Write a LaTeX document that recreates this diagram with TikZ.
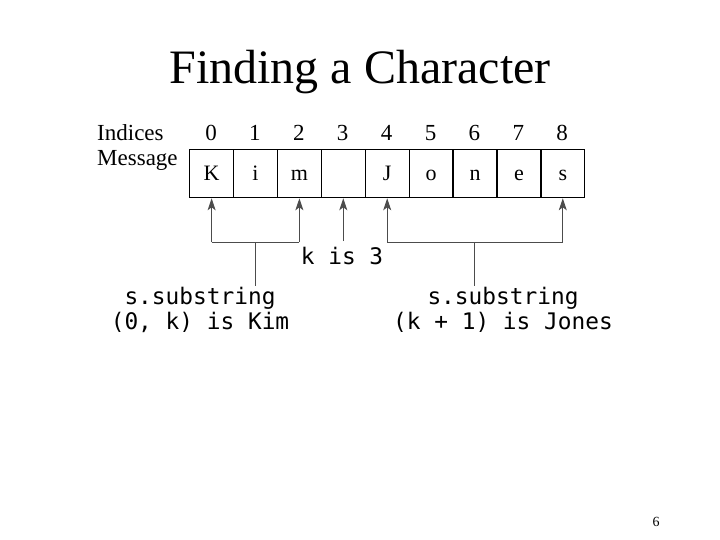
\documentclass[tikz,border=0pt]{standalone}
\usepackage{fontspec}
\setmainfont{Liberation Serif}
\newfontfamily\monof{DejaVu Sans Mono}
\usetikzlibrary{arrows.meta}
\begin{document}
\begin{tikzpicture}[x=1pt,y=-1pt,
  cellbox/.style={draw,line width=1.3pt,minimum width=43.9pt,minimum height=48pt,inner sep=0pt,anchor=north west,text height=14pt,text depth=0pt,font=\fontsize{22}{24}\selectfont},
  idx/.style={font=\fontsize{23}{25}\selectfont,inner sep=0pt},
  lbl/.style={font=\fontsize{23}{25}\selectfont,inner sep=0pt,anchor=west},
  mono/.style={font=\monof\fontsize{22.8}{24.5}\selectfont,inner sep=0pt,align=center},
  conn/.style={draw=black!70,line width=1pt},
  arr/.style={conn,-{Stealth[length=12pt,width=8pt,inset=3pt]}}]
\useasboundingbox (0,0) rectangle (720,540);
\node[font=\fontsize{48}{52}\selectfont,inner sep=0pt] (title) at (360,72) {Finding a Character};
\node[lbl] (ind) at (97,133) {Indices};
\node[lbl] (msg) at (97,160) {Message};
\foreach \i/\c in {0/K,1/i,2/m,3/{},4/J,5/o,6/n,7/e,8/s}{
  \node[cellbox] (c\i) at (189+43.9*\i,149) {\c};
  \node[idx] (n\i) at (211+43.9*\i,133) {\i};
}
\coordinate (a0) at (c0.south |- 0,242);
\coordinate (a2) at (c2.south |- 0,242);
\coordinate (a3) at (c3.south |- 0,241);
\coordinate (a4) at (c4.south |- 0,242);
\coordinate (a8) at (c8.south |- 0,242);
\draw[arr] (a0) -- (c0.south);
\draw[arr] (a2) -- (c2.south);
\draw[arr] (a3) -- (c3.south);
\draw[arr] (a4) -- (c4.south);
\draw[arr] (a8) -- (c8.south);
\draw[conn] (a0) -- (a2);
\draw[conn] (a4) -- (a8);
\node[mono] (k) at (342,256) {k is 3};
\coordinate (lb) at (255,242);
\coordinate (rb) at (474,242);
\node[mono] (left) at (200,310) {s.substring\\(0, k) is Kim};
\node[mono] (right) at (503,310) {s.substring\\(k + 1) is Jones};
\coordinate (le) at (255,286);
\coordinate (re) at (474,286);
\draw[conn] (lb) -- (le);
\draw[conn] (rb) -- (re);
\node[font=\fontsize{14}{16}\selectfont,inner sep=0pt] (pg) at (656,522) {6};
\end{tikzpicture}
\end{document}
